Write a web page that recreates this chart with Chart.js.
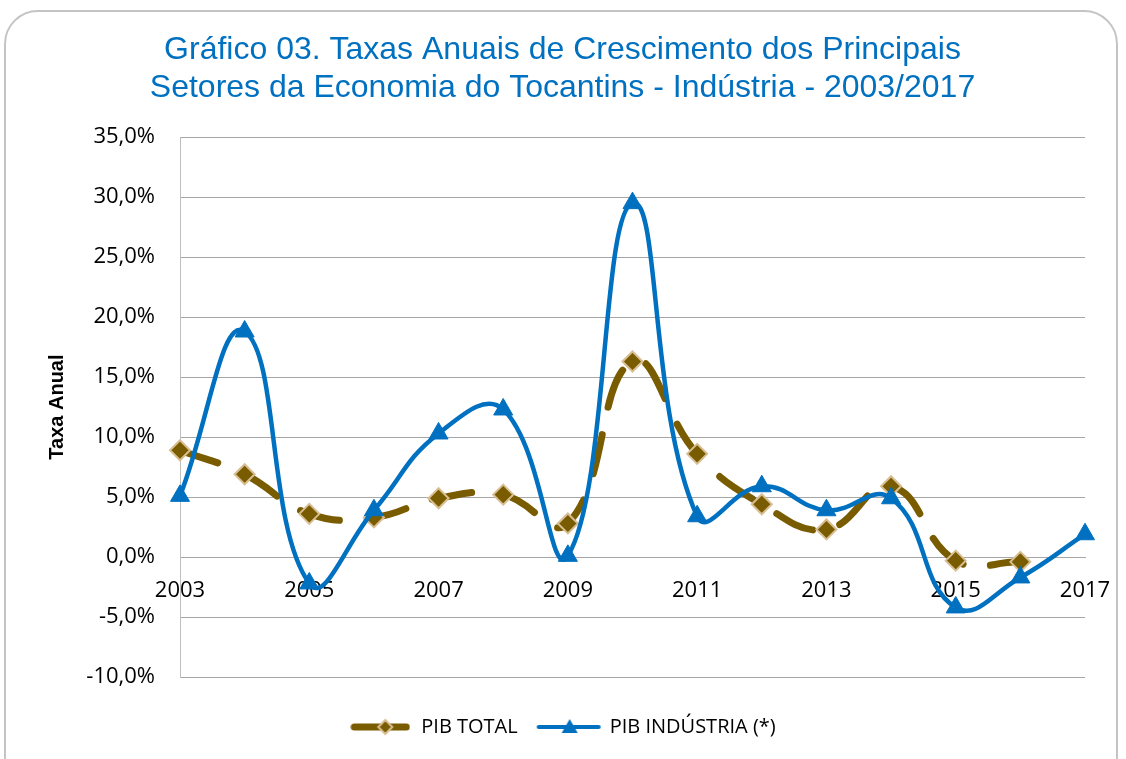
<!DOCTYPE html>
<html>
<head>
<meta charset="utf-8">
<script src="https://cdn.jsdelivr.net/npm/chart.js@4.4.1/dist/chart.umd.min.js"></script>
<style>
  html, body { margin: 0; padding: 0; background: #fff; }
  #wrap { position: relative; width: 1126px; height: 759px; overflow: hidden; }
  #frame { position: absolute; left: 4px; top: 10px; width: 1114px; height: 800px;
           border: 2px solid #c4c4c4; border-radius: 34px; box-sizing: border-box; }
  canvas { position: absolute; left: 0; top: 0; }
</style>
</head>
<body>
<div id="wrap">
  <div id="frame"></div>
  <canvas id="chart" width="1126" height="759"></canvas>
</div>
<script>
const years = ['2003','2004','2005','2006','2007','2008','2009','2010','2011','2012','2013','2014','2015','2016','2017'];
const pibTotal = [8.9, 6.9, 3.6, 3.3, 4.9, 5.2, 2.8, 16.3, 8.6, 4.4, 2.3, 5.9, -0.3, -0.4, null];
const pibIndustria = [5.1, 18.8, -2.2, 3.9, 10.3, 12.3, 0.1, 29.5, 3.4, 5.9, 3.9, 4.9, -4.2, -1.7, 1.9];
const yTicksMin = -10;
const yTicksMax = 35;

const brown = '#7a5c00';
const tan = '#d8be93';
const blue = '#0070c0';

// legend symbols: a line with the marker on top
function legendSymbol(kind) {
  const c = document.createElement('canvas');
  const w = kind === 'total' ? 60 : 66;
  c.width = w; c.height = 22;
  const g = c.getContext('2d');
  g.lineCap = 'round';
  if (kind === 'total') {
    g.strokeStyle = brown; g.lineWidth = 7;
    g.beginPath(); g.moveTo(4, 11); g.lineTo(w - 4, 11); g.stroke();
    const cx = w / 2 + 5;
    g.beginPath();
    g.moveTo(cx, 4); g.lineTo(cx + 7, 11); g.lineTo(cx, 18); g.lineTo(cx - 7, 11); g.closePath();
    g.fillStyle = brown; g.fill();
    g.strokeStyle = tan; g.lineWidth = 2; g.stroke();
  } else {
    g.strokeStyle = blue; g.lineWidth = 4;
    g.beginPath(); g.moveTo(3, 11); g.lineTo(w - 3, 11); g.stroke();
    const cx = w / 2 + 1;
    g.beginPath();
    g.moveTo(cx, 3); g.lineTo(cx + 8, 17); g.lineTo(cx - 8, 17); g.closePath();
    g.fillStyle = blue; g.fill();
  }
  return c;
}

const ctx = document.getElementById('chart').getContext('2d');
new Chart(ctx, {
  type: 'line',
  data: {
    labels: years,
    datasets: [
      {
        label: 'PIB TOTAL',
        data: pibTotal,
        order: 2,
        borderColor: brown,
        borderWidth: 7,
        borderDash: [40, 28],
        borderCapStyle: 'round',
        tension: 0.45,
        pointStyle: 'rectRot',
        pointRadius: 10,
        pointBackgroundColor: brown,
        pointBorderColor: tan,
        pointBorderWidth: 2,
        spanGaps: false
      },
      {
        label: 'PIB INDÚSTRIA (*)',
        data: pibIndustria,
        order: 1,
        borderColor: blue,
        borderWidth: 4.5,
        tension: 0.45,
        pointStyle: 'triangle',
        pointRadius: 11,
        pointBackgroundColor: blue,
        pointBorderColor: blue,
        pointBorderWidth: 1
      }
    ]
  },
  options: {
    responsive: false,
    animation: false,
    layout: { padding: { left: 40, right: 41, top: 31, bottom: 12 } },
    plugins: {
      title: {
        display: true,
        text: ['Gráfico 03. Taxas Anuais de Crescimento dos Principais',
               'Setores da Economia do Tocantins - Indústria - 2003/2017'],
        color: blue,
        font: { family: 'Liberation Sans', size: 32, weight: 'normal', lineHeight: 1.19 },
        padding: { top: 0, bottom: 30 }
      },
      legend: {
        position: 'bottom',
        title: { display: true, text: ' ', font: { size: 1, lineHeight: 1 }, padding: { top: 19, bottom: 0 } },
        labels: {
          usePointStyle: true,
          pointStyleWidth: 62,
          padding: 20,
          color: '#000',
          font: { family: 'Open Sans', size: 20 },
          generateLabels: function (chart) {
            return [
              { text: 'PIB TOTAL', pointStyle: legendSymbol('total'), datasetIndex: 0, hidden: false, fontColor: '#000', lineWidth: 0, strokeStyle: 'transparent', fillStyle: 'transparent' },
              { text: 'PIB INDÚSTRIA (*)', pointStyle: legendSymbol('ind'), datasetIndex: 1, hidden: false, fontColor: '#000', lineWidth: 0, strokeStyle: 'transparent', fillStyle: 'transparent' }
            ];
          }
        }
      },
      tooltip: { enabled: false }
    },
    scales: {
      x: {
        position: { y: 0 },
        offset: false,
        afterFit: function (s) { s.paddingLeft = 0; s.paddingRight = 0; },
        grid: { display: false, drawTicks: false },
        border: { display: true, color: '#a6a6a6', width: 1 },
        ticks: {
          autoSkip: false,
          maxRotation: 0,
          padding: 20,
          color: '#000',
          font: { family: 'Open Sans', size: 22 },
          callback: function (v, i) { return i % 2 === 0 ? years[i] : ''; }
        }
      },
      y: {
        min: yTicksMin,
        max: yTicksMax,
        afterFit: function (s) { s.width = 140; },
        title: {
          display: true,
          text: 'Taxa Anual',
          color: '#000',
          font: { family: 'Liberation Sans', size: 20, weight: 'bold' },
          padding: { top: 5, bottom: 0 }
        },
        grid: { color: '#a6a6a6', lineWidth: 1, drawTicks: false },
        border: { display: true, color: '#bfbfbf', width: 1 },
        ticks: {
          stepSize: 5,
          padding: 25,
          color: '#000',
          font: { family: 'Open Sans', size: 22 },
          callback: function (v) { return v.toFixed(1).replace('.', ',') + '%'; }
        }
      }
    }
  }
});
</script>
</body>
</html>
